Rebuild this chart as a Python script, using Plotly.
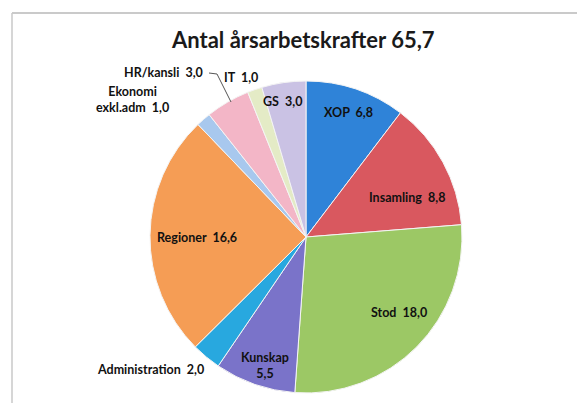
import plotly.graph_objects as go

# ---- data ----
categories = ["XOP", "Insamling", "Stod", "Kunskap", "Administration",
              "Regioner", "Ekonomi<br>exkl.adm", "HR/kansli", "IT", "GS"]
values = [6.8, 8.8, 18.0, 5.5, 2.0, 16.6, 1.0, 3.0, 1.0, 3.0]
colors = ["#2F83D8", "#D9585F", "#9CC865", "#7A73C9", "#28A8DF",
          "#F59D55", "#A8C8EE", "#F3B6C7", "#E4EBC6", "#CAC2E4"]
title_text = "Antal årsarbetskrafter 65,7"

W, H = 585, 403
OFF = 8  # page body margin offset

def fmt(v):
    return f"{v:.1f}".replace(".", ",")

def px(x):
    return (x - OFF) / W

def py(y):
    return 1 - (y - OFF) / H

FONT = "Lato, Open Sans, sans-serif"

fig = go.Figure(go.Pie(
    labels=categories,
    values=values,
    textinfo="none",
    sort=False,
    direction="clockwise",
    rotation=0,
    marker=dict(colors=colors, line=dict(color="#f4f4f4", width=1)),
    hoverinfo="label+value",
    showlegend=False,
    domain=dict(x=[px(150), px(462)], y=[py(393), py(81)]),
))

label_font = dict(family=FONT, size=12.5, color="#111111")
# data-label anchor positions (pixels)
label_pos = {
    "XOP": (348, 112),
    "Insamling": (407, 197),
    "Stod": (399, 312),
    "Kunskap": (265, 365),
    "Administration": (150, 369),
    "Regioner": (197, 238),
    "Ekonomi<br>exkl.adm": (132, 100),
    "HR/kansli": (163, 73),
    "IT": (241, 78),
    "GS": (282, 102),
}
annotations = []
for c, v in zip(categories, values):
    x, y = label_pos[c]
    if c == "Kunskap":
        t = f"<b>{c}<br>{fmt(v)}</b>"
    else:
        t = f"<b>{c}  {fmt(v)}</b>"
    annotations.append(dict(x=px(x), y=py(y), xref="paper", yref="paper",
                            text=t, showarrow=False, font=label_font,
                            xanchor="center", yanchor="middle"))

annotations.append(dict(x=px(303), y=py(40), xref="paper", yref="paper",
                        text="<b>" + title_text + "</b>", showarrow=False,
                        font=dict(family=FONT, size=22, color="#1a1a1a"),
                        xanchor="center", yanchor="middle"))

shapes = [
    # frame (top and left edges)
    dict(type="line", xref="paper", yref="paper", x0=px(12), y0=py(13), x1=1, y1=py(13),
         line=dict(color="#b8b8b8", width=1.5)),
    dict(type="line", xref="paper", yref="paper", x0=px(12), y0=py(13), x1=px(12), y1=0,
         line=dict(color="#c8c8c8", width=1.5)),
    # leader line for HR/kansli
    dict(type="path", xref="paper", yref="paper",
         path=f"M {px(209)},{py(73)} L {px(217)},{py(74)} L {px(231)},{py(102)}",
         line=dict(color="#555555", width=1)),
]

fig.update_layout(
    width=W, height=H,
    margin=dict(l=0, r=0, t=0, b=0),
    paper_bgcolor="white",
    plot_bgcolor="white",
    annotations=annotations,
    shapes=shapes,
    font=dict(family=FONT),
)

fig.write_html("out.html")
